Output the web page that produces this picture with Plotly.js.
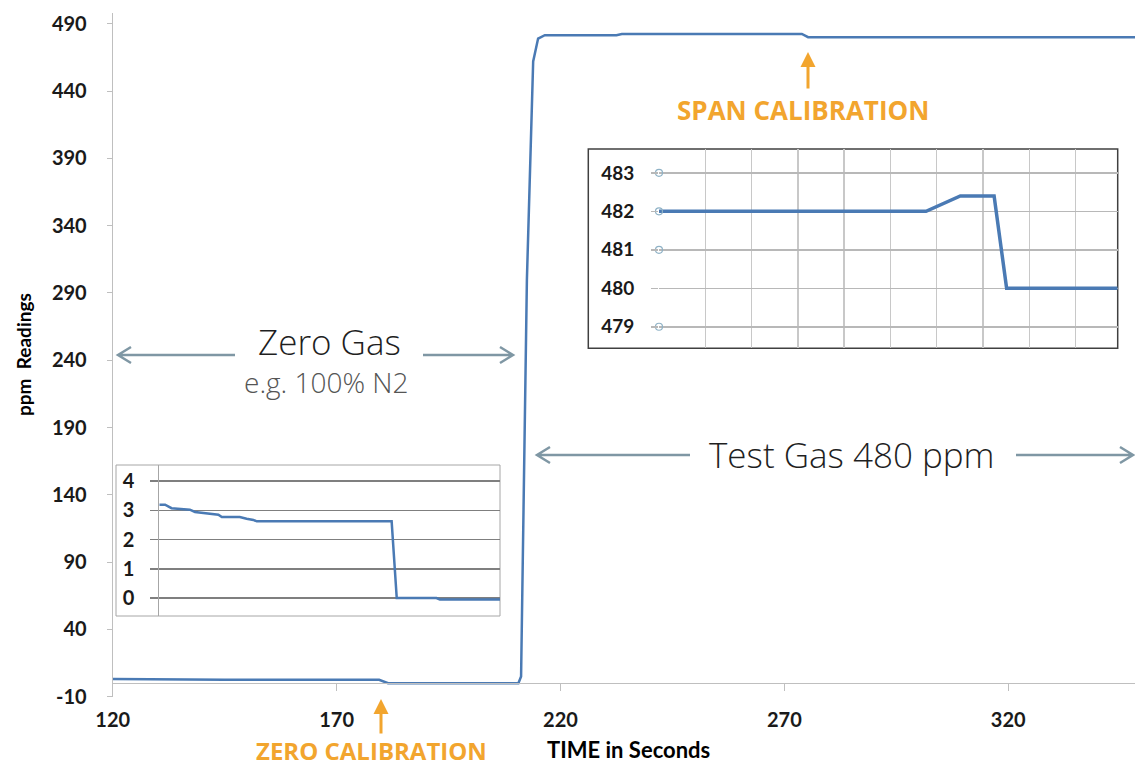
<!DOCTYPE html>
<html>
<head>
<meta charset="utf-8">
<script src="https://cdn.plot.ly/plotly-3.0.1.min.js"></script>
<style>
  html, body { margin: 0; padding: 0; background: #ffffff; }
  #chart { width: 1135px; height: 771px; }
</style>
</head>
<body>
<div id="chart"></div>
<script>
// ---------------- data ----------------
// main trace: time (s) vs ppm reading
const timeSec = [120, 132, 144, 145, 179.5, 181.5, 198, 199, 210.6, 211.2, 212.5, 213.9, 215.0, 216.5, 232.5, 233.7, 273.9, 275.3, 348.3];
const ppmReading = [3.2, 3.0, 2.7, 2.6, 2.6, 0, 0, -0.05, -0.05, 5, 300, 462, 479, 481.5, 481.5, 482.4, 482.4, 480, 480];

// zero-gas inset (zoomed view around zero calibration)
const zeroInsetX = [0, 1.7, 3.6, 6.1, 9.0, 10.5, 13.9, 17.4, 18.4, 23.7, 25.7, 27.7, 28.7, 68.4, 69.9, 81.6, 82.6, 100.3];
const zeroInsetY = [3.19, 3.19, 3.07, 3.04, 3.02, 2.94, 2.90, 2.85, 2.77, 2.77, 2.71, 2.67, 2.62, 2.62, 0, 0, -0.05, -0.05];

// span inset (zoomed view around span calibration)
const spanInsetX = [0, 5.77, 6.51, 7.24, 7.51, 9.91];
const spanInsetY = [482, 482, 482.4, 482.4, 480, 480];
const spanTickMarkY = [479, 481, 482, 483];

// tick labels
const mainYTicks = [-10, 40, 90, 140, 190, 240, 290, 340, 390, 440, 490];
const mainXTicks = [120, 170, 220, 270, 320];
const zeroInsetTicks = [0, 1, 2, 3, 4];
const spanInsetTicks = [479, 480, 481, 482, 483];

// ---------------- layout helpers ----------------
const W = 1135, H = 771;
const px = v => v / W;
const py = v => 1 - v / H;

const BLUE = '#4a7ab4';
const ORANGE = '#f2a52e';
const ARROW = '#7f97a4';
const BOLDFAMILY = 'Lato, "Open Sans", sans-serif';
const TICKFONT = {family: BOLDFAMILY, size: 20, color: '#1a1a1a', weight: 'bold'};

const mainYDom = [py(696.7), py(13)];
const yMin = -10, yMax = 498;
const xAxisPos = mainYDom[0] + (0 - yMin) / (yMax - yMin) * (mainYDom[1] - mainYDom[0]);

// chevron arrow path between two pixel points (horizontal)
function hArrow(x1, x2, y) {
  const dir = x2 > x1 ? -1 : 1;
  const hx = x2 + dir * 13;
  return {
    type: 'path', xref: 'paper', yref: 'paper',
    path: `M ${px(x1)},${py(y)} L ${px(x2)},${py(y)} M ${px(hx)},${py(y - 8)} L ${px(x2)},${py(y)} L ${px(hx)},${py(y + 8)}`,
    line: {color: ARROW, width: 2.5}, layer: 'above'
  };
}

const traces = [
  {
    x: timeSec, y: ppmReading, xaxis: 'x', yaxis: 'y',
    type: 'scatter', mode: 'lines',
    line: {color: BLUE, width: 2.5}, hoverinfo: 'skip'
  },
  {
    x: zeroInsetX, y: zeroInsetY, xaxis: 'x2', yaxis: 'y2',
    type: 'scatter', mode: 'lines',
    line: {color: BLUE, width: 2.5}, hoverinfo: 'skip'
  },
  {
    x: spanInsetX, y: spanInsetY, xaxis: 'x3', yaxis: 'y3',
    type: 'scatter', mode: 'lines',
    line: {color: BLUE, width: 3.5}, hoverinfo: 'skip'
  },
  {
    x: spanTickMarkY.map(() => 0), y: spanTickMarkY, xaxis: 'x3', yaxis: 'y3',
    type: 'scatter', mode: 'markers', cliponaxis: false,
    marker: {symbol: 'circle-open', size: 7, color: '#8fb2c6', line: {width: 1.2}},
    hoverinfo: 'skip'
  }
];

const layout = {
  width: W, height: H,
  margin: {l: 0, r: 0, t: 0, b: 0},
  paper_bgcolor: '#ffffff',
  plot_bgcolor: 'rgba(0,0,0,0)',
  showlegend: false,
  font: {family: BOLDFAMILY},
  xaxis: {
    domain: [px(112.7), 1],
    range: [120, 348.3],
    anchor: 'free', position: xAxisPos,
    tickvals: mainXTicks, ticktext: mainXTicks.map(String),
    ticks: 'outside', ticklen: 7, tickcolor: '#bfbfbf', tickwidth: 1,
    showline: true, linecolor: '#bfbfbf', linewidth: 1,
    showgrid: false, zeroline: false,
    tickfont: TICKFONT, ticklabelstandoff: 12
  },
  yaxis: {
    domain: mainYDom,
    range: [yMin, yMax],
    tickvals: mainYTicks, ticktext: mainYTicks.map(String),
    ticks: 'outside', ticklen: 5, tickcolor: '#bfbfbf', tickwidth: 1,
    showline: true, linecolor: '#bfbfbf', linewidth: 1,
    showgrid: false, zeroline: false,
    tickfont: TICKFONT, ticklabelstandoff: 16
  },
  xaxis2: {
    domain: [px(159.3), px(500)], range: [0, 100.3], anchor: 'y2',
    showgrid: false, zeroline: false, showline: false, showticklabels: false, ticks: ''
  },
  yaxis2: {
    domain: [py(616), py(465)], range: [-0.615, 4.547], anchor: 'x2',
    tickvals: zeroInsetTicks, ticktext: zeroInsetTicks.map(String),
    showgrid: true, gridcolor: '#7f7f7f', gridwidth: 1.5,
    ticks: 'outside', ticklen: 8, tickcolor: '#7f7f7f', tickwidth: 1.5,
    showline: true, linecolor: '#a6a6a6', linewidth: 1,
    zeroline: false,
    tickfont: {family: BOLDFAMILY, size: 20, color: '#1a1a1a', weight: 'bold'},
    ticklabelstandoff: 12
  },
  xaxis3: {
    domain: [px(659), px(1117.7)], range: [0, 9.91], anchor: 'y3',
    dtick: 1, tick0: 0,
    showgrid: true, gridcolor: '#c8c8c8', gridwidth: 1.5,
    zeroline: false, showline: false, showticklabels: false, ticks: ''
  },
  yaxis3: {
    domain: [py(348.3), py(149)], range: [478.44, 483.62], anchor: 'x3',
    tickvals: spanInsetTicks, ticktext: spanInsetTicks.map(String),
    showgrid: true, gridcolor: '#b8b8b8', gridwidth: 1.5,
    ticks: 'outside', ticklen: 7, tickcolor: '#b8b8b8', tickwidth: 1.5,
    showline: false, zeroline: false,
    tickfont: {family: BOLDFAMILY, size: 19, color: '#1a1a1a', weight: 'bold'},
    ticklabelstandoff: 13
  },
  shapes: [
    {type: 'rect', xref: 'paper', yref: 'paper', x0: px(116), x1: px(500), y0: py(616), y1: py(465),
     fillcolor: '#ffffff', line: {color: '#a6a6a6', width: 1}, layer: 'below'},
    {type: 'rect', xref: 'paper', yref: 'paper', x0: px(588.3), x1: px(1117.7), y0: py(348.3), y1: py(149),
     fillcolor: '#ffffff', line: {color: '#404040', width: 1.5}, layer: 'below'},
    hArrow(235, 118, 355),
    hArrow(423, 513, 355),
    hArrow(690, 537, 455),
    hArrow(1016, 1133, 455)
  ],
  annotations: [
    {xref: 'paper', yref: 'paper', x: px(329), y: py(341), text: 'Zero Gas', showarrow: false,
     xanchor: 'center', yanchor: 'middle',
     font: {family: '"Open Sans", sans-serif', size: 35, color: '#1f1f1f', weight: 300}},
    {xref: 'paper', yref: 'paper', x: px(327), y: py(382), text: 'e.g. 100% N2', showarrow: false,
     xanchor: 'center', yanchor: 'middle',
     font: {family: '"Open Sans", sans-serif', size: 28, color: '#555555', weight: 300}},
    {xref: 'paper', yref: 'paper', x: px(852), y: py(454), text: 'Test Gas 480 ppm', showarrow: false,
     xanchor: 'center', yanchor: 'middle',
     font: {family: '"Open Sans", sans-serif', size: 35, color: '#1f1f1f', weight: 300}},
    {xref: 'paper', yref: 'paper', x: px(803), y: py(110), text: 'SPAN CALIBRATION', showarrow: false,
     xanchor: 'center', yanchor: 'middle',
     font: {family: '"Open Sans", sans-serif', size: 26, color: ORANGE, weight: 'bold'}},
    {xref: 'paper', yref: 'paper', x: px(371), y: 0.004, text: 'ZERO CALIBRATION', showarrow: false,
     xanchor: 'center', yanchor: 'bottom', borderpad: 0,
     font: {family: '"Open Sans", sans-serif', size: 24, color: ORANGE, weight: 'bold'}},
    {xref: 'paper', yref: 'paper', x: px(381), y: py(699), text: '', showarrow: true,
     axref: 'pixel', ayref: 'pixel', ax: 0, ay: 36,
     arrowhead: 2, arrowsize: 1, arrowwidth: 3, arrowcolor: ORANGE},
    {xref: 'paper', yref: 'paper', x: px(808), y: py(52), text: '', showarrow: true,
     axref: 'pixel', ayref: 'pixel', ax: 0, ay: 38,
     arrowhead: 2, arrowsize: 1, arrowwidth: 3, arrowcolor: ORANGE},
    {xref: 'paper', yref: 'paper', x: px(24), y: py(355), text: 'ppm  Readings', showarrow: false,
     textangle: -90, xanchor: 'center', yanchor: 'middle',
     font: {family: BOLDFAMILY, size: 19, color: '#000000', weight: 'bold'}},
    {xref: 'paper', yref: 'paper', x: px(628), y: py(749), text: 'TIME in Seconds', showarrow: false,
     xanchor: 'center', yanchor: 'middle',
     font: {family: BOLDFAMILY, size: 22, color: '#000000', weight: 'bold'}}
  ]
};

Plotly.newPlot('chart', traces, layout, {displayModeBar: false, staticPlot: true});
</script>
</body>
</html>
